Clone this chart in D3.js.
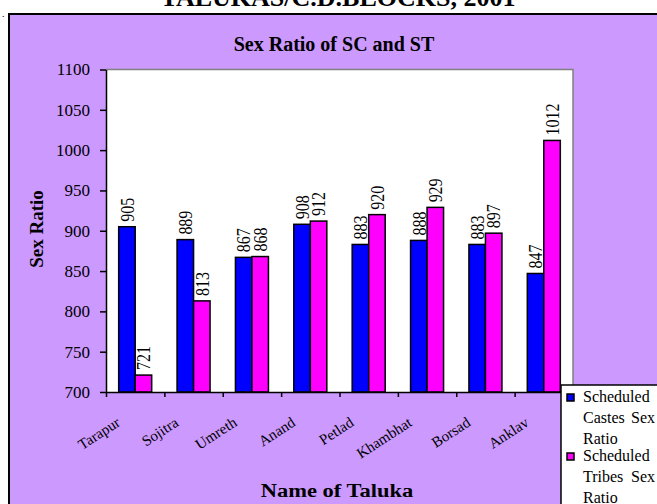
<!DOCTYPE html>
<html>
<head>
<meta charset="utf-8">
<script src="https://cdnjs.cloudflare.com/ajax/libs/d3/7.8.5/d3.min.js"></script>
<style>
  body { margin: 0; background: #fff; }
  text { font-family: "Liberation Serif", "Times New Roman", serif; fill: #000; }
</style>
</head>
<body>
<script>
var talukas = ['Tarapur', 'Sojitra', 'Umreth', 'Anand', 'Petlad', 'Khambhat', 'Borsad', 'Anklav'];
var scRatio = [905, 889, 867, 908, 883, 888, 883, 847];
var stRatio = [721, 813, 868, 912, 920, 929, 897, 1012];
var yTicks = [700, 750, 800, 850, 900, 950, 1000, 1050, 1100];
var legendLines = [
  ['Scheduled', 'Castes', 'Sex', 'Ratio'],
  ['Scheduled', 'Tribes', 'Sex', 'Ratio']
];
var colors = ['#0000ff', '#ff00ff'];

var svg = d3.select('body').append('svg')
  .attr('width', 657)
  .attr('height', 504);

// outer purple frame (runs off the right / bottom edge)
svg.append('rect')
  .attr('x', 9).attr('y', 14)
  .attr('width', 700).attr('height', 600)
  .attr('fill', '#cc99ff')
  .attr('stroke', '#000')
  .attr('stroke-width', 2);

svg.append('text')
  .attr('x', 338).attr('y', 6)
  .attr('text-anchor', 'middle')
  .style('font-weight', 'bold')
  .style('font-size', '26px')
  .text('TALUKAS/C.D.BLOCKS, 2001');

svg.append('text')
  .attr('x', 2).attr('y', 17)
  .style('font-size', '10px')
  .text('.');

var x = d3.scaleBand().domain(talukas).range([106, 573]);
var xEdge = d3.scalePoint().domain(d3.range(talukas.length + 1)).range([106, 573]);
var y = d3.scaleLinear().domain([700, 1100]).range([392, 69.5]);
var pairW = 33;
var x1 = d3.scaleBand().domain([0, 1]).range([0, pairW]);
var off = (x.bandwidth() - pairW) / 2;

// plot area
svg.append('rect')
  .attr('x', 106).attr('y', y(1100))
  .attr('width', 573 - 106).attr('height', y(700) - y(1100))
  .attr('fill', '#fff');
svg.append('path')
  .attr('d', 'M106,' + y(1100) + 'H573V' + y(700))
  .attr('fill', 'none')
  .attr('stroke', '#808080')
  .attr('stroke-width', 1.5);

svg.append('text')
  .attr('x', 334).attr('y', 51)
  .attr('text-anchor', 'middle')
  .style('font-weight', 'bold')
  .style('font-size', '20px')
  .text('Sex Ratio of  SC and  ST');

var series = [scRatio, stRatio];
series.forEach(function(vals, s) {
  var g = svg.append('g');
  g.selectAll('rect')
    .data(vals)
    .enter()
    .append('rect')
    .attr('x', function(d, i) { return x(talukas[i]) + off + x1(s); })
    .attr('y', function(d) { return y(d); })
    .attr('width', x1.bandwidth())
    .attr('height', function(d) { return y(700) - y(d); })
    .attr('fill', colors[s])
    .attr('stroke', '#000')
    .attr('stroke-width', 1.5);

  g.selectAll('text')
    .data(vals)
    .enter()
    .append('text')
    .attr('transform', function(d, i) {
      var cx = x(talukas[i]) + off + x1(s) + x1.bandwidth() / 2;
      return 'translate(' + cx + ',' + (y(d) - 5) + ') scale(1.2,1) rotate(-90)';
    })
    .attr('dy', '0.35em')
    .style('font-size', '16px')
    .text(function(d) { return d; });
});

// y axis
var yAxis = svg.append('g')
  .attr('transform', 'translate(106,0)')
  .call(d3.axisLeft(y).tickValues(yTicks).tickFormat(d3.format('d'))
    .tickSize(6).tickPadding(10).tickSizeOuter(0));
yAxis.selectAll('text')
  .style('font-size', '17px')
  .style('font-family', '"Liberation Serif", serif')
  .attr('fill', '#000');
yAxis.selectAll('line, path').attr('stroke', '#000').attr('stroke-width', 1.5);

// x axis: ticks sit between categories
var xAxis = svg.append('g')
  .attr('transform', 'translate(0,' + y(700) + ')')
  .call(d3.axisBottom(xEdge).tickSize(5).tickSizeOuter(0).tickFormat(''));
xAxis.selectAll('line, path').attr('stroke', '#000').attr('stroke-width', 1.5);

svg.append('g').selectAll('text')
  .data(talukas)
  .enter()
  .append('text')
  .attr('transform', function(d) {
    return 'translate(' + (x(d) + x.bandwidth() / 2 - 14) + ',425) rotate(-33)';
  })
  .attr('text-anchor', 'end')
  .style('font-size', '15px')
  .text(function(d) { return d; });

svg.append('text')
  .attr('transform', 'translate(36,229) rotate(-90)')
  .attr('text-anchor', 'middle')
  .attr('dy', '0.35em')
  .style('font-weight', 'bold')
  .style('font-size', '19px')
  .text('Sex Ratio');

svg.append('text')
  .attr('transform', 'translate(337,497) scale(1.25,1)')
  .attr('text-anchor', 'middle')
  .style('font-weight', 'bold')
  .style('font-size', '18px')
  .text('Name of Taluka');

// legend
var legend = svg.append('g');
legend.append('rect')
  .attr('x', 561).attr('y', 385)
  .attr('width', 110).attr('height', 140)
  .attr('fill', '#fff')
  .attr('stroke', '#000')
  .attr('stroke-width', 1.5);

legendLines.forEach(function(lines, k) {
  var top = 402 + k * 59;
  legend.append('rect')
    .attr('x', 567).attr('y', top - 8)
    .attr('width', 7).attr('height', 7)
    .attr('fill', colors[k])
    .attr('stroke', '#000')
    .attr('stroke-width', 1.5);
  legend.append('text').attr('x', 583).attr('y', top)
    .style('font-size', '16px').text(lines[0]);
  legend.append('text').attr('x', 583).attr('y', top + 21)
    .style('font-size', '16px').text(lines[1]);
  legend.append('text').attr('x', 655).attr('y', top + 21)
    .attr('text-anchor', 'end')
    .style('font-size', '16px').text(lines[2]);
  legend.append('text').attr('x', 583).attr('y', top + 42)
    .style('font-size', '16px').text(lines[3]);
});
</script>
</body>
</html>
